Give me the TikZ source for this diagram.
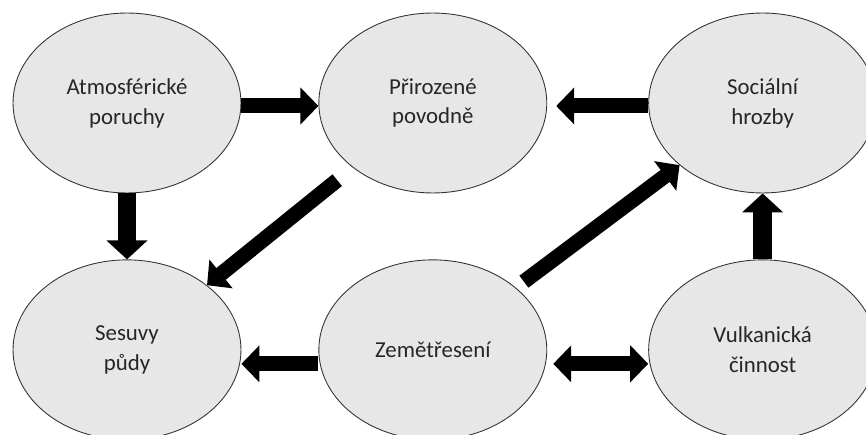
\documentclass[tikz,border=0pt]{standalone}
\usepackage{fontspec}
\setmainfont{Carlito}
\usetikzlibrary{arrows.meta, positioning, shapes.geometric}
\definecolor{cfill}{HTML}{E7E7E7}
\definecolor{cline}{HTML}{333333}
\definecolor{ctext}{HTML}{262626}
\tikzset{
  every picture/.style={font=\fontsize{13}{17}\selectfont},
  hazard/.style={ellipse, draw=cline, fill=cfill, line width=0.5pt, minimum width=4.56cm, minimum height=3.6cm, inner sep=0pt, align=center, text=ctext},
  flow/.style={line width=0.3cm, -{Triangle[length=0.36cm, width=0.72cm]}},
  flowv/.style={line width=0.38cm, -{Triangle[length=0.38cm, width=0.8cm]}},
  flowboth/.style={line width=0.3cm, {Triangle[length=0.36cm, width=0.72cm]}-{Triangle[length=0.36cm, width=0.72cm]}},
}

\begin{document}
\begin{tikzpicture}[x=0.02cm, y=-0.02cm]
  \useasboundingbox (0,0) rectangle (866,435);
  \node[hazard] (atm) at (127,103) {Atmosférické\\poruchy};
  \node[hazard, right=1.54cm of atm] (prir) {Přirozené\\povodně};
  \node[hazard, right=2.02cm of prir] (soc) {Sociální\\hrozby};
  \node[hazard, below=1.32cm of atm] (ses) {Sesuvy\\půdy};
  \node[hazard, below=1.32cm of prir] (zem) {Zemětřesení};
  \node[hazard, below=1.32cm of soc] (vulk) {Vulkanická\\činnost};
  \draw[flow] ([yshift=-0.06cm]atm.east) -- ([yshift=-0.06cm]prir.west);
  \draw[flow, shorten >=0.18cm] ([yshift=-0.06cm]soc.west) -- ([yshift=-0.06cm]prir.east);
  \draw[flowv] (atm.south) -- (ses.north);
  \draw[flowv] (vulk.north) -- (soc.south);
  \draw[flow, shorten <=0.4cm] (prir) -- (ses);
  \draw[flow, shorten <=0.2cm] (zem) -- (soc);
  \draw[flow] ([yshift=-0.28cm]zem.west) -- ([yshift=-0.28cm]ses.east);
  \draw[flowboth, shorten <=0.12cm] ([yshift=-0.28cm]zem.east) -- ([yshift=-0.28cm]vulk.west);
\end{tikzpicture}
\end{document}
